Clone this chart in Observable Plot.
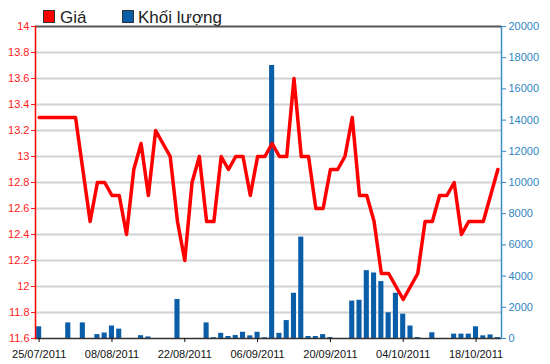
<!DOCTYPE html>
<html>
<head>
<meta charset="utf-8">
<script src="https://cdn.jsdelivr.net/npm/d3@7"></script>
<script src="https://cdn.jsdelivr.net/npm/@observablehq/plot@0.6"></script>
<style>
  html, body { margin: 0; padding: 0; background: #fff; }
  #wrap { position: relative; width: 550px; height: 364px; font-family: "Liberation Sans", Arial, sans-serif; }
  #wrap svg { position: absolute; left: 0; top: 0; }
  .lg-box { position: absolute; top: 10px; width: 10px; height: 11px; border: 1px solid #333; }
  .lg-txt { position: absolute; top: 9px; font-size: 17px; line-height: 17px; color: #222; white-space: nowrap; }
</style>
</head>
<body>
<div id="wrap">
  <div id="legend">
    <span class="lg-box" style="left:43px;background:#ff0000"></span>
    <span class="lg-txt" style="left:60px">Giá</span>
    <span class="lg-box" style="left:122px;background:#0a5ea8"></span>
    <span class="lg-txt" style="left:138px">Khối lượng</span>
  </div>
</div>
<script>
// Trading days (category axis)
const dates = [
  "25/07/2011","26/07/2011","27/07/2011","28/07/2011","29/07/2011",
  "01/08/2011","02/08/2011","03/08/2011","04/08/2011","05/08/2011",
  "08/08/2011","09/08/2011","10/08/2011","11/08/2011","12/08/2011",
  "15/08/2011","16/08/2011","17/08/2011","18/08/2011","19/08/2011",
  "22/08/2011","23/08/2011","24/08/2011","25/08/2011","26/08/2011",
  "29/08/2011","30/08/2011","31/08/2011","01/09/2011",
  "05/09/2011","06/09/2011","07/09/2011","08/09/2011","09/09/2011",
  "12/09/2011","13/09/2011","14/09/2011","15/09/2011","16/09/2011",
  "19/09/2011","20/09/2011","21/09/2011","22/09/2011","23/09/2011",
  "26/09/2011","27/09/2011","28/09/2011","29/09/2011","30/09/2011",
  "03/10/2011","04/10/2011","05/10/2011","06/10/2011","07/10/2011",
  "10/10/2011","11/10/2011","12/10/2011","13/10/2011","14/10/2011",
  "17/10/2011","18/10/2011","19/10/2011","20/10/2011","21/10/2011"
];
// Giá (price)
const prices = [
  13.3,13.3,13.3,13.3,13.3,
  13.3,12.9,12.5,12.8,12.8,
  12.7,12.7,12.4,12.9,13.1,
  12.7,13.2,13.1,13.0,12.5,
  12.2,12.8,13.0,12.5,12.5,
  13.0,12.9,13.0,13.0,
  12.7,13.0,13.0,13.1,13.0,
  13.0,13.6,13.0,13.0,12.6,
  12.6,12.9,12.9,13.0,13.3,
  12.7,12.7,12.5,12.1,12.1,
  12.0,11.9,12.0,12.1,12.5,
  12.5,12.7,12.7,12.8,12.4,
  12.5,12.5,12.5,12.7,12.9
];
// Khối lượng (volume)
const volumes = [
  750,0,0,0,1000,
  0,1000,0,250,350,
  800,600,0,0,180,
  100,0,0,0,2500,
  0,0,0,1000,50,
  330,130,190,400,
  170,400,50,17500,330,
  1150,2900,6500,130,130,
  250,60,0,0,2400,
  2450,4350,4200,3650,1650,
  2900,1560,800,60,0,
  370,0,0,280,280,
  280,750,170,230,60
];
const priceTicks = [11.6,11.8,12,12.2,12.4,12.6,12.8,13,13.2,13.4,13.6,13.8,14];
const volumeTicks = [0,2000,4000,6000,8000,10000,12000,14000,16000,18000,20000];
const xTickLabels = ["25/07/2011","08/08/2011","22/08/2011","06/09/2011","20/09/2011","04/10/2011","18/10/2011"];

const priceMin = 11.6, priceMax = 14, volMax = 20000;
// map volume onto the price scale (secondary axis)
const volToY = v => priceMin + v / volMax * (priceMax - priceMin);
const yToVol = y => Math.round((y - priceMin) / (priceMax - priceMin) * volMax);

const data = dates.map((d, i) => ({date: d, price: prices[i], vol: volumes[i], volY: volToY(volumes[i])}));

const chart = Plot.plot({
  width: 550,
  height: 364,
  marginLeft: 35,
  marginRight: 49,
  marginTop: 26,
  marginBottom: 26,
  style: {fontFamily: "'Liberation Sans', Arial, sans-serif", fontSize: "11px", background: "transparent", overflow: "visible"},
  x: {type: "band", domain: dates, paddingInner: 0.3, paddingOuter: 0.15, round: false, axis: null, label: null},
  y: {domain: [priceMin, priceMax], axis: null, label: null},
  marks: [
    Plot.ruleY(priceTicks.slice(1, -1), {stroke: "#d2d2d2", strokeWidth: 2}),
    Plot.barY(data, {x: "date", y1: priceMin, y2: "volY", fill: "#0a5ea8"}),
    Plot.ruleY([priceMax], {stroke: "#555", strokeWidth: 2}),
    Plot.ruleY([priceMin], {stroke: "#333", strokeWidth: 1.5}),
    Plot.line(data, {x: "date", y: "price", stroke: "#ff0000", strokeWidth: 3.5, strokeLinejoin: "round"}),
    Plot.frame({anchor: "left", stroke: "#ff0000", strokeWidth: 1.5}),
    Plot.frame({anchor: "right", stroke: "#3d8cc4", strokeWidth: 1.5}),
    Plot.axisY({anchor: "left", ticks: priceTicks, tickFormat: d => String(d), color: "#ff1a1a", tickSize: 4, tickPadding: 2, fontSize: 11, label: null}),
    Plot.axisY({anchor: "right", ticks: volumeTicks.map(volToY), tickFormat: d => String(yToVol(d)), color: "#2f86bf", tickSize: 4, tickPadding: 3, fontSize: 11, label: null}),
    Plot.axisX({ticks: xTickLabels, tickSize: 4, tickPadding: 8, color: "#111", fontSize: 11, label: null})
  ]
});
document.getElementById("wrap").appendChild(chart);
</script>
</body>
</html>
